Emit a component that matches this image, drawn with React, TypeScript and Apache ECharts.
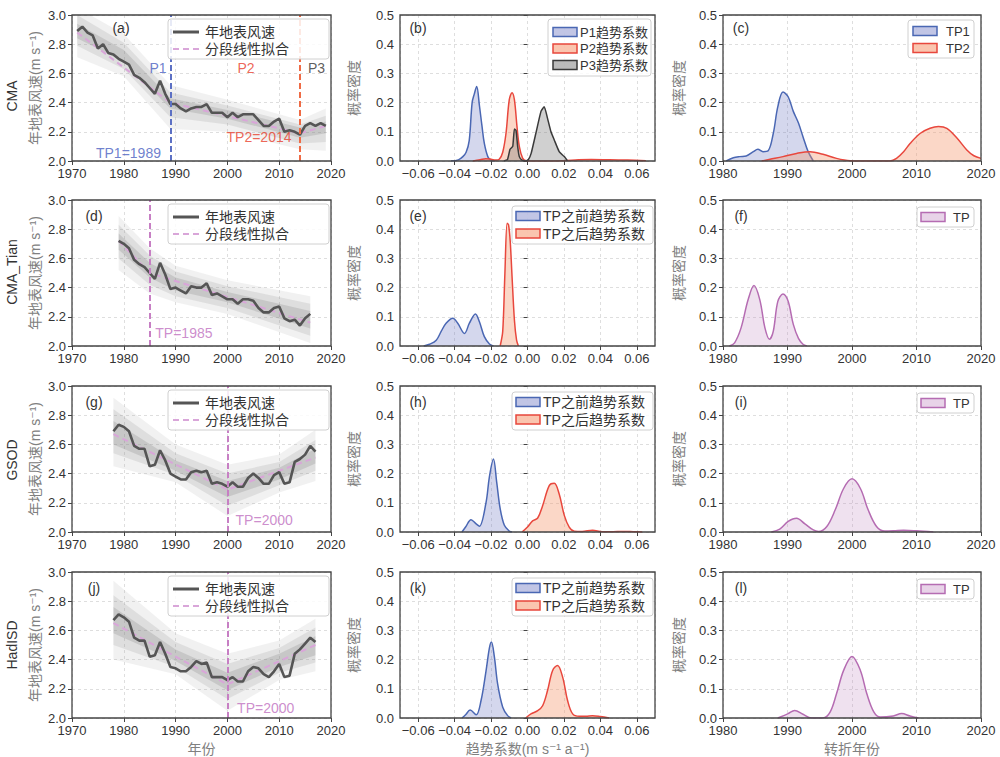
import React, { useEffect, useRef } from 'react';
import * as echarts from 'echarts';

const FONT = '"Liberation Sans", "Noto Sans CJK SC", "DejaVu Sans", sans-serif';

// ---------- Column 1: annual surface wind speed (m s-1) ----------
const startA = 1971;
const windA = [2.89, 2.92, 2.88, 2.86, 2.77, 2.80, 2.74, 2.73, 2.70, 2.68, 2.66, 2.59, 2.57, 2.54, 2.50, 2.46, 2.55, 2.46, 2.39, 2.39,
  2.36, 2.34, 2.36, 2.37, 2.37, 2.39, 2.33, 2.33, 2.33, 2.30, 2.33, 2.30, 2.32, 2.32, 2.32, 2.28, 2.24, 2.24, 2.27, 2.29,
  2.20, 2.21, 2.20, 2.18, 2.24, 2.26, 2.24, 2.26, 2.24];
const fitAx = [1971, 1989, 2014, 2019];
const fitAy = [2.88, 2.40, 2.19, 2.24];
const bandAx = [1971, 1980, 1989, 2000, 2014, 2019];
const bandAoHi = [3.05, 2.87, 2.52, 2.42, 2.28, 2.36];
const bandAoLo = [2.71, 2.58, 2.22, 2.20, 2.08, 2.07];
const bandAmHi = [3.00, 2.81, 2.47, 2.38, 2.25, 2.31];
const bandAmLo = [2.79, 2.63, 2.30, 2.25, 2.12, 2.13];
const bandAcHi = [2.94, 2.76, 2.43, 2.35, 2.23, 2.27];
const bandAcLo = [2.84, 2.68, 2.36, 2.29, 2.16, 2.19];

const startD = 1979;
const windD = [2.72, 2.70, 2.67, 2.59, 2.56, 2.54, 2.50, 2.46, 2.57, 2.49, 2.39, 2.40, 2.38, 2.36, 2.41, 2.40, 2.40, 2.43, 2.35, 2.36,
  2.34, 2.32, 2.32, 2.29, 2.32, 2.32, 2.31, 2.26, 2.23, 2.23, 2.26, 2.27, 2.19, 2.17, 2.18, 2.14, 2.19, 2.22];
const fitDx = [1979, 1985, 2016];
const fitDy = [2.72, 2.50, 2.16];
const bandDx = [1979, 1985, 1990, 2000, 2016];
const bandDoHi = [2.89, 2.67, 2.55, 2.45, 2.34];
const bandDoLo = [2.52, 2.36, 2.30, 2.22, 2.02];
const bandDmHi = [2.83, 2.62, 2.51, 2.41, 2.29];
const bandDmLo = [2.60, 2.42, 2.34, 2.26, 2.07];
const bandDcHi = [2.77, 2.57, 2.47, 2.37, 2.24];
const bandDcLo = [2.66, 2.47, 2.38, 2.30, 2.12];

const startG = 1978;
const windG = [2.69, 2.735, 2.72, 2.69, 2.59, 2.57, 2.57, 2.45, 2.46, 2.56, 2.49, 2.40, 2.38, 2.36, 2.36, 2.41, 2.42, 2.41, 2.42, 2.33,
  2.34, 2.33, 2.31, 2.34, 2.31, 2.31, 2.37, 2.40, 2.37, 2.33, 2.33, 2.39, 2.41, 2.33, 2.34, 2.48, 2.50, 2.53, 2.59, 2.55];
const fitGx = [1978, 2000, 2017];
const fitGy = [2.67, 2.29, 2.51];
const bandGx = [1978, 1990, 2000, 2010, 2017];
const bandGoHi = [2.92, 2.60, 2.46, 2.53, 2.70];
const bandGoLo = [2.45, 2.34, 2.11, 2.27, 2.35];
const bandGmHi = [2.84, 2.54, 2.40, 2.48, 2.63];
const bandGmLo = [2.54, 2.39, 2.18, 2.32, 2.42];
const bandGcHi = [2.76, 2.49, 2.35, 2.44, 2.57];
const bandGcLo = [2.60, 2.42, 2.24, 2.36, 2.47];

const startJ = 1978;
const windJ = [2.67, 2.71, 2.69, 2.66, 2.55, 2.53, 2.53, 2.42, 2.43, 2.52, 2.44, 2.35, 2.34, 2.32, 2.32, 2.35, 2.39, 2.37, 2.38, 2.28,
  2.28, 2.28, 2.26, 2.28, 2.25, 2.25, 2.32, 2.35, 2.34, 2.30, 2.28, 2.32, 2.37, 2.28, 2.29, 2.44, 2.47, 2.51, 2.55, 2.52];
const fitJx = [1978, 2000, 2017];
const fitJy = [2.65, 2.23, 2.50];
const bandJx = [1978, 1990, 2000, 2010, 2017];
const bandJoHi = [2.94, 2.58, 2.44, 2.53, 2.68];
const bandJoLo = [2.40, 2.30, 2.05, 2.26, 2.32];
const bandJmHi = [2.84, 2.52, 2.37, 2.48, 2.62];
const bandJmLo = [2.50, 2.35, 2.13, 2.31, 2.38];
const bandJcHi = [2.76, 2.47, 2.31, 2.44, 2.56];
const bandJcLo = [2.58, 2.39, 2.19, 2.35, 2.43];

// ---------- Column 2: trend coefficient densities ----------
const bP1x = [-0.042, -0.038, -0.0355, -0.0337, -0.032, -0.0304, -0.0292, -0.0279, -0.0264, -0.025, -0.0237, -0.0218, -0.020, -0.018];
const bP1y = [0, 0.004, 0.015, 0.03, 0.07, 0.20, 0.23, 0.255, 0.19, 0.12, 0.06, 0.015, 0.002, 0];
const bP2x = [-0.030, -0.026, -0.023, -0.020, -0.0175, -0.0155, -0.0136, -0.0118, -0.010, -0.0085, -0.0072, -0.0058, -0.0045, -0.0027, -0.0008, 0.004, 0.010, 0.020, 0.028, 0.035, 0.045, 0.055, 0.065];
const bP2y = [0, 0.004, 0.008, 0.006, 0.003, 0.006, 0.03, 0.095, 0.21, 0.234, 0.21, 0.12, 0.05, 0.01, 0.001, 0, 0, 0.001, 0.004, 0.005, 0.004, 0.003, 0.001];
const bP3x = [-0.013, -0.011, -0.0096, -0.0081, -0.0072, -0.0063, -0.0054, -0.0045, -0.003, -0.001, 0.0005, 0.002, 0.0046, 0.0074, 0.0092, 0.011, 0.0129, 0.0147, 0.0174, 0.0202, 0.022];
const bP3y = [0, 0.005, 0.04, 0.05, 0.11, 0.105, 0.05, 0.015, 0.003, 0, 0.005, 0.026, 0.095, 0.17, 0.186, 0.146, 0.10, 0.072, 0.032, 0.015, 0];

const eBx = [-0.057, -0.0538, -0.0501, -0.0474, -0.0447, -0.041, -0.0383, -0.0346, -0.0319, -0.0286, -0.0264, -0.0237, -0.0209, -0.0187];
const eBy = [0, 0.006, 0.02, 0.05, 0.078, 0.095, 0.078, 0.043, 0.078, 0.11, 0.083, 0.032, 0.007, 0];
const eAx = [-0.0150, -0.0136, -0.0124, -0.0112, -0.0104, -0.0095, -0.0085, -0.0072, -0.0060, -0.0050];
const eAy = [0, 0.05, 0.25, 0.42, 0.415, 0.36, 0.24, 0.09, 0.02, 0];

const hBx = [-0.036, -0.034, -0.031, -0.0282, -0.0264, -0.0228, -0.0209, -0.0187, -0.0169, -0.015, -0.0127, -0.010, -0.0085];
const hBy = [0, 0.017, 0.042, 0.028, 0.02, 0.10, 0.19, 0.25, 0.17, 0.08, 0.023, 0.003, 0];
const hAx = [-0.003, 0, 0.0028, 0.0056, 0.0083, 0.012, 0.0147, 0.0174, 0.0202, 0.0229, 0.0257, 0.030, 0.0357, 0.041, 0.047, 0.052, 0.058, 0.063];
const hAy = [0, 0.017, 0.038, 0.048, 0.09, 0.16, 0.167, 0.13, 0.057, 0.017, 0.003, 0.002, 0.006, 0.001, 0.001, 0.002, 0.001, 0];

const kBx = [-0.036, -0.034, -0.0315, -0.0282, -0.0255, -0.0228, -0.0209, -0.0198, -0.0182, -0.0164, -0.0136, -0.0109, -0.009];
const kBy = [0, 0.011, 0.027, 0.011, 0.06, 0.16, 0.24, 0.26, 0.21, 0.117, 0.037, 0.008, 0];
const kAx = [-0.001, 0.0019, 0.0056, 0.0083, 0.011, 0.0138, 0.0165, 0.0193, 0.022, 0.0248, 0.0284, 0.032, 0.0357, 0.040, 0.0448];
const kAy = [0, 0.014, 0.025, 0.042, 0.094, 0.163, 0.18, 0.14, 0.06, 0.014, 0.006, 0.006, 0.008, 0.005, 0];

// ---------- Column 3: turning-point year densities ----------
const cT1x = [1980.5, 1981.6, 1982.6, 1983.6, 1984.7, 1985.4, 1986.2, 1987, 1987.8, 1988.5, 1989.3, 1990.1, 1990.9, 1991.7, 1992.4, 1993.2, 1994];
const cT1y = [0, 0.011, 0.015, 0.017, 0.032, 0.04, 0.032, 0.035, 0.095, 0.186, 0.236, 0.22, 0.17, 0.13, 0.083, 0.032, 0];
const cT2x = [1986, 1987.3, 1989.3, 1991.4, 1993.5, 1995.5, 1997.6, 1999.7, 2002, 2005.9, 2006.9, 2008, 2009, 2010.6, 2012.1, 2013.4, 2014.7, 2016.3, 2017.8, 2018.9, 2020];
const cT2y = [0, 0.006, 0.015, 0.026, 0.032, 0.023, 0.009, 0.001, 0, 0, 0.009, 0.032, 0.06, 0.095, 0.112, 0.118, 0.112, 0.078, 0.038, 0.018, 0.009];
const fTx = [1981, 1981.8, 1982.8, 1983.9, 1984.8, 1985.7, 1986.5, 1987.2, 1987.8, 1988.5, 1989.3, 1990.1, 1990.9, 1991.7, 1992.4, 1993];
const fTy = [0, 0.011, 0.062, 0.159, 0.207, 0.159, 0.062, 0.023, 0.051, 0.153, 0.178, 0.153, 0.074, 0.026, 0.006, 0];
const iTx = [1987.5, 1988.8, 1990.1, 1991.4, 1992.7, 1994, 1994.8, 1996.1, 1997.4, 1998.7, 2000, 2001.3, 2002.5, 2003.8, 2005.1, 2006.5, 2008, 2010, 2012.6];
const iTy = [0, 0.01, 0.036, 0.047, 0.028, 0.007, 0.002, 0.019, 0.076, 0.149, 0.182, 0.149, 0.076, 0.019, 0.003, 0.004, 0.006, 0.004, 0];
const lTx = [1988.5, 1990.1, 1991.1, 1992.4, 1993.7, 1995.5, 1996.6, 1997.6, 1998.7, 2000, 2001.3, 2002.3, 2003.4, 2004.4, 2006.4, 2007.7, 2009, 2010.3];
const lTy = [0, 0.015, 0.026, 0.013, 0, 0, 0.02, 0.083, 0.163, 0.211, 0.163, 0.083, 0.02, 0.003, 0.007, 0.015, 0.007, 0];

// ---------- Layout & styles ----------
const COLS = [[72, 331], [400, 655], [723, 981]];
const ROWS = [15, 200, 386, 572];
const PH = 146;
const ROW_NAMES = ['CMA', 'CMA_Tian', 'GSOD', 'HadISD'];
const ROW_NAME_Y = [96, 272, 460, 645];
const LETTERS = ['(a)', '(b)', '(c)', '(d)', '(e)', '(f)', '(g)', '(h)', '(i)', '(j)', '(k)', '(l)'];

const COL = {
  blue: '#4a67b3', blueFill: 'rgba(100,110,190,0.40)',
  red: '#e8473d', redFill: 'rgba(245,150,110,0.55)',
  gray: '#3a3a3a', grayFill: 'rgba(120,120,120,0.50)',
  purple: '#b56cb2', purpleFill: 'rgba(190,130,190,0.35)',
  main: '#555555', fit: '#d9a6d9',
  vBlue: '#5c70c4', vRed: '#ef6b45', vPurple: '#c77fc4',
  tBlue: '#4a5fc1', tRed: '#e8402c', tPurple: '#c070c0',
};

type TS = {
  idx: number; start: number; vals: number[]; fx: number[]; fy: number[];
  bx: number[]; bands: number[][][];
  tps: { x: number; color: string }[];
  notes: { t: string; x: number; y: number; c: string }[];
};

const TS_PANELS: TS[] = [
  {
    idx: 0, start: startA, vals: windA, fx: fitAx, fy: fitAy, bx: bandAx,
    bands: [[bandAoHi, bandAoLo], [bandAmHi, bandAmLo], [bandAcHi, bandAcLo]],
    tps: [{ x: 1989, color: COL.vBlue }, { x: 2014, color: COL.vRed }],
    notes: [
      { t: 'P1', x: 1986.6, y: 2.64, c: COL.tBlue },
      { t: 'P2', x: 2003.6, y: 2.64, c: COL.tRed },
      { t: 'P3', x: 2017.2, y: 2.64, c: '#333' },
      { t: 'TP1=1989', x: 1980.9, y: 2.053, c: COL.tBlue },
      { t: 'TP2=2014', x: 2006.1, y: 2.167, c: COL.tRed },
    ],
  },
  {
    idx: 3, start: startD, vals: windD, fx: fitDx, fy: fitDy, bx: bandDx,
    bands: [[bandDoHi, bandDoLo], [bandDmHi, bandDmLo], [bandDcHi, bandDcLo]],
    tps: [{ x: 1985, color: COL.vPurple }],
    notes: [{ t: 'TP=1985', x: 1991.6, y: 2.087, c: COL.tPurple }],
  },
  {
    idx: 6, start: startG, vals: windG, fx: fitGx, fy: fitGy, bx: bandGx,
    bands: [[bandGoHi, bandGoLo], [bandGmHi, bandGmLo], [bandGcHi, bandGcLo]],
    tps: [{ x: 2000, color: COL.vPurple }],
    notes: [{ t: 'TP=2000', x: 2007.1, y: 2.08, c: COL.tPurple }],
  },
  {
    idx: 9, start: startJ, vals: windJ, fx: fitJx, fy: fitJy, bx: bandJx,
    bands: [[bandJoHi, bandJoLo], [bandJmHi, bandJmLo], [bandJcHi, bandJcLo]],
    tps: [{ x: 2000, color: COL.vPurple }],
    notes: [{ t: 'TP=2000', x: 2007.4, y: 2.066, c: COL.tPurple }],
  },
];
const BAND_FILLS = ['rgba(165,165,165,0.16)', 'rgba(140,140,140,0.18)', 'rgba(110,110,110,0.20)'];

type Curve = { name: string; x: number[]; y: number[]; line: string; fill: string; smooth: number };
const DENS: { idx: number; curves: Curve[]; font: number }[] = [
  {
    idx: 1, font: 13, curves: [
      { name: 'P1趋势系数', x: bP1x, y: bP1y, line: COL.blue, fill: COL.blueFill, smooth: 0.35 },
      { name: 'P2趋势系数', x: bP2x, y: bP2y, line: COL.red, fill: COL.redFill, smooth: 0.35 },
      { name: 'P3趋势系数', x: bP3x, y: bP3y, line: COL.gray, fill: COL.grayFill, smooth: 0.15 },
    ],
  },
  {
    idx: 2, font: 13, curves: [
      { name: 'TP1', x: cT1x, y: cT1y, line: COL.blue, fill: COL.blueFill, smooth: 0.35 },
      { name: 'TP2', x: cT2x, y: cT2y, line: COL.red, fill: COL.redFill, smooth: 0.35 },
    ],
  },
  {
    idx: 4, font: 14, curves: [
      { name: 'TP之前趋势系数', x: eBx, y: eBy, line: COL.blue, fill: COL.blueFill, smooth: 0.35 },
      { name: 'TP之后趋势系数', x: eAx, y: eAy, line: COL.red, fill: COL.redFill, smooth: 0.3 },
    ],
  },
  { idx: 5, font: 13, curves: [{ name: 'TP', x: fTx, y: fTy, line: COL.purple, fill: COL.purpleFill, smooth: 0.35 }] },
  {
    idx: 7, font: 14, curves: [
      { name: 'TP之前趋势系数', x: hBx, y: hBy, line: COL.blue, fill: COL.blueFill, smooth: 0.35 },
      { name: 'TP之后趋势系数', x: hAx, y: hAy, line: COL.red, fill: COL.redFill, smooth: 0.35 },
    ],
  },
  { idx: 8, font: 13, curves: [{ name: 'TP', x: iTx, y: iTy, line: COL.purple, fill: COL.purpleFill, smooth: 0.35 }] },
  {
    idx: 10, font: 14, curves: [
      { name: 'TP之前趋势系数', x: kBx, y: kBy, line: COL.blue, fill: COL.blueFill, smooth: 0.35 },
      { name: 'TP之后趋势系数', x: kAx, y: kAy, line: COL.red, fill: COL.redFill, smooth: 0.35 },
    ],
  },
  { idx: 11, font: 13, curves: [{ name: 'TP', x: lTx, y: lTy, line: COL.purple, fill: COL.purpleFill, smooth: 0.35 }] },
];

function fmtTrend(v: number) {
  if (Math.abs(v) < 1e-9) return '0.00';
  return (v < 0 ? '\u2212' : '') + Math.abs(v).toFixed(2);
}

function bandSeries(i: number, xs: number[], hi: number[], lo: number[], fill: string) {
  return {
    type: 'custom', xAxisIndex: i, yAxisIndex: i, silent: true, clip: true, z: 1,
    data: [[xs[0], lo[0]]],
    encode: { x: 0, y: 1 },
    renderItem: (_p: any, api: any) => {
      const pts: number[][] = [];
      for (let k = 0; k < xs.length; k++) pts.push(api.coord([xs[k], hi[k]]));
      for (let k = xs.length - 1; k >= 0; k--) pts.push(api.coord([xs[k], lo[k]]));
      return { type: 'polygon', shape: { points: pts }, style: { fill } };
    },
  };
}

function buildOption() {
  const grid: any[] = [];
  const xAxis: any[] = [];
  const yAxis: any[] = [];
  const series: any[] = [];
  const elements: any[] = [];

  for (let r = 0; r < 4; r++) {
    for (let c = 0; c < 3; c++) {
      const i = r * 3 + c;
      const gw = COLS[c][1] - COLS[c][0];
      grid.push({ left: COLS[c][0], top: ROWS[r], width: gw, height: PH, show: false });
      // axes frame (spines)
      elements.push({
        type: 'rect', z: 50, silent: true,
        shape: { x: COLS[c][0], y: ROWS[r], width: gw, height: PH },
        style: { fill: 'none', stroke: '#444', lineWidth: 1.3 },
      });
      const common = () => ({
        axisLine: { show: false },
        axisTick: { show: true, inside: false, length: 4, lineStyle: { color: '#444', width: 1 } },
        splitLine: { show: true, lineStyle: { color: '#d6d6d6', type: [3, 3], width: 0.8 } },
      });
      const xa: any = { type: 'value', gridIndex: i, ...common() };
      if (c === 0) {
        Object.assign(xa, { min: 1970, max: 2020, interval: 10 });
        xa.axisLabel = { color: '#333', fontSize: 13, fontFamily: FONT, margin: 6, formatter: (v: number) => String(v) };
      } else if (c === 1) {
        Object.assign(xa, { min: -0.07, max: 0.07, minInterval: 0.02, maxInterval: 0.02, splitNumber: 7 });
        xa.axisLabel = { color: '#333', fontSize: 13, fontFamily: FONT, margin: 6, showMinLabel: false, showMaxLabel: false, formatter: fmtTrend };
      } else {
        Object.assign(xa, { min: 1980, max: 2020, interval: 10 });
        xa.axisLabel = { color: '#333', fontSize: 13, fontFamily: FONT, margin: 6, formatter: (v: number) => String(v) };
      }
      if (r === 3) {
        xa.name = ['年份', '趋势系数(m s\u207B\u00B9 a\u207B\u00B9)', '转折年份'][c];
        xa.nameLocation = 'middle';
        xa.nameGap = 24;
        xa.nameTextStyle = { color: '#808080', fontSize: 14, fontFamily: FONT };
      }
      xAxis.push(xa);

      const ya: any = { type: 'value', gridIndex: i, ...common() };
      if (c === 0) {
        Object.assign(ya, { min: 2, max: 3, interval: 0.2, name: '年地表风速(m s\u207B\u00B9)', nameGap: 30 });
      } else {
        Object.assign(ya, { min: 0, max: 0.5, interval: 0.1, name: '概率密度', nameGap: c === 1 ? 39 : 37 });
      }
      ya.nameLocation = 'middle';
      ya.nameRotate = 90;
      ya.nameTextStyle = { color: '#808080', fontSize: 14, fontFamily: FONT };
      ya.axisLabel = { color: '#333', fontSize: 13, fontFamily: FONT, margin: 6, formatter: (v: number) => v.toFixed(1) };
      yAxis.push(ya);

      // panel letter
      const lx = c === 0 ? (i === 0 ? 121 : 94) : c === 1 ? 418 : 741;
      elements.push({
        type: 'text', x: lx, y: ROWS[r] + (r === 0 ? 13 : 16), z: 100,
        style: { text: LETTERS[i], fontSize: 14, fontFamily: FONT, fill: '#333', align: 'center', verticalAlign: 'middle' },
      });
    }
    elements.push({
      type: 'text', x: 12, y: ROW_NAME_Y[r], rotation: Math.PI / 2, z: 100,
      style: { text: ROW_NAMES[r], fontSize: 14, fontFamily: FONT, fill: '#333', align: 'center', verticalAlign: 'middle' },
    });
  }

  // time-series panels
  TS_PANELS.forEach((p) => {
    const i = p.idx;
    p.bands.forEach((b, k) => series.push(bandSeries(i, p.bx, b[0], b[1], BAND_FILLS[k])));
    series.push({
      type: 'line', xAxisIndex: i, yAxisIndex: i, silent: true, symbol: 'none', z: 3,
      lineStyle: { color: COL.fit, width: 2, type: [6, 4] },
      data: p.fx.map((x, k) => [x, p.fy[k]]),
    });
    series.push({
      type: 'line', xAxisIndex: i, yAxisIndex: i, silent: true, symbol: 'none', z: 4,
      lineStyle: { color: COL.main, width: 2.6 },
      data: p.vals.map((v, k) => [p.start + k, v]),
      markLine: {
        silent: true, symbol: 'none', label: { show: false }, animation: false,
        data: p.tps.map((t) => ({ xAxis: t.x, lineStyle: { color: t.color, type: [6, 3], width: 2 } })),
      },
    });
    series.push({
      type: 'scatter', xAxisIndex: i, yAxisIndex: i, silent: true, symbolSize: 1, z: 6,
      itemStyle: { color: 'rgba(0,0,0,0)' },
      data: p.notes.map((n) => ({
        value: [n.x, n.y],
        label: { show: true, position: 'inside', formatter: n.t, color: n.c, fontSize: 14, fontFamily: FONT },
      })),
    });
    // legend
    const top = ROWS[Math.floor(i / 3)];
    elements.push({ type: 'rect', z: 100, shape: { x: 168, y: top + 4, width: 161, height: 40, r: 3 }, style: { fill: 'rgba(255,255,255,0.85)', stroke: '#d0d0d0', lineWidth: 1 } });
    elements.push({ type: 'line', z: 101, shape: { x1: 173, y1: top + 17, x2: 199, y2: top + 17 }, style: { stroke: COL.main, lineWidth: 3 } });
    elements.push({ type: 'line', z: 101, shape: { x1: 173, y1: top + 34, x2: 199, y2: top + 34 }, style: { stroke: COL.fit, lineWidth: 2, lineDash: [6, 4] } });
    elements.push({ type: 'text', z: 101, x: 205, y: top + 17, style: { text: '年地表风速', fontSize: 14, fontFamily: FONT, fill: '#333', verticalAlign: 'middle' } });
    elements.push({ type: 'text', z: 101, x: 205, y: top + 34, style: { text: '分段线性拟合', fontSize: 14, fontFamily: FONT, fill: '#333', verticalAlign: 'middle' } });
  });

  // density panels
  DENS.forEach((d) => {
    const i = d.idx;
    const r = Math.floor(i / 3);
    const c = i % 3;
    const top = ROWS[r];
    d.curves.forEach((cv, k) => {
      series.push({
        type: 'line', xAxisIndex: i, yAxisIndex: i, silent: true, symbol: 'none', smooth: cv.smooth, z: 2 + k,
        lineStyle: { color: cv.line, width: 1.5 },
        areaStyle: { color: cv.fill, origin: 'start' },
        data: cv.x.map((x, j) => [x, cv.y[j]]),
      });
    });
    // legend
    const n = d.curves.length;
    let bx: number, bw: number, by: number, bh: number, px: number, tx: number, rows: number[];
    if (c === 1 && n === 3) {
      bx = 548; bw = 103; by = top + 4; bh = 57; px = 553; tx = 580; rows = [17, 33.5, 50];
    } else if (c === 1) {
      bx = 512; bw = 141; by = top + 6; bh = 38; px = 516; tx = 543; rows = [16, 33.5];
    } else if (n === 2) {
      bx = 908; bw = 66; by = top + 5; bh = 38; px = 913; tx = 946; rows = [16, 33];
    } else {
      bx = 917; bw = 57; by = top + 7; bh = 20; px = 921; tx = 953; rows = [17];
    }
    elements.push({ type: 'rect', z: 100, shape: { x: bx, y: by, width: bw, height: bh, r: 3 }, style: { fill: 'rgba(255,255,255,0.85)', stroke: '#d0d0d0', lineWidth: 1 } });
    d.curves.forEach((cv, k) => {
      const yy = top + rows[k];
      elements.push({ type: 'rect', z: 101, shape: { x: px, y: yy - 4.5, width: 24, height: 9 }, style: { fill: cv.fill, stroke: cv.line, lineWidth: 1.5 } });
      elements.push({ type: 'text', z: 101, x: tx, y: yy, style: { text: cv.name, fontSize: d.font, fontFamily: FONT, fill: '#333', verticalAlign: 'middle' } });
    });
  });

  return {
    animation: false,
    backgroundColor: '#ffffff',
    textStyle: { fontFamily: FONT },
    grid, xAxis, yAxis, series,
    graphic: { elements },
  };
}

export default function App() {
  const ref = useRef<HTMLDivElement>(null);
  useEffect(() => {
    if (!ref.current) return;
    const chart = echarts.init(ref.current, undefined, { renderer: 'svg' });
    chart.setOption(buildOption() as any);
    return () => chart.dispose();
  }, []);
  return <div ref={ref} style={{ position: 'absolute', left: 0, top: 0, width: 1000, height: 757, background: '#fff' }} />;
}
